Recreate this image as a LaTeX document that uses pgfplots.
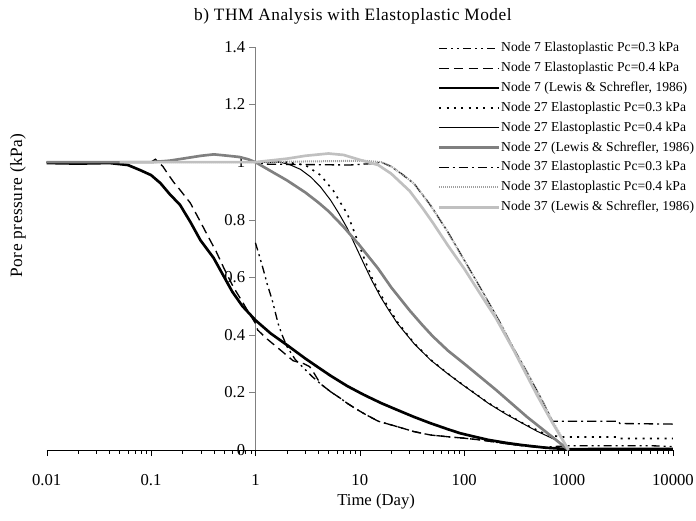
\documentclass[border=0pt]{standalone}
\usepackage{fontspec}
\setmainfont{Liberation Serif}
\newfontfamily\spacedfont[LetterSpace=3]{Liberation Serif}
\usepackage{pgfplots}
\pgfplotsset{compat=1.18}
\definecolor{midgray}{HTML}{808080}
\definecolor{ltgray}{HTML}{C0C0C0}
\definecolor{spgray}{HTML}{A0A0A0}

\begin{document}
\begin{tikzpicture}
\begin{axis}[
  scale only axis, width=469.7pt, height=302.25pt,
  xmode=log, xmin=0.01, xmax=10000, ymin=0, ymax=1.4,
  axis x line=bottom, axis y line=middle,
  axis line style={-},
  y axis line style={midgray},
  hide obscured x ticks=false, hide obscured y ticks=false,
  xtick={0.01,0.1,1,10,100,1000,10000},
  xticklabels={0.01,0.1,1,10,100,1000,10000},
  minor xtick={},
  ytick={0,0.2,0.4,0.6,0.8,1,1.2,1.4},
  yticklabels={0,0.2,0.4,0.6,0.8,1,1.2,1.4},
  tick align=outside, major tick length=4.5pt,
  x tick style={black}, y tick style={midgray},
  tick label style={font=\fontsize{12.5}{15}\selectfont},
  xticklabel style={anchor=base, yshift=-22pt},
  yticklabel style={anchor=east, inner sep=0pt, xshift=-3pt},
  clip=false,
  title={b) THM Analysis with Elastoplastic Model},
  xlabel={Time (Day)}, ylabel={Pore pressure (kPa)},
  every axis title/.style={at={(axis description cs:0.489,1)}, anchor=base,
    yshift=20pt, font=\spacedfont\fontsize{13}{15}\selectfont},
  every axis x label/.style={at={(axis description cs:0.526,0)}, anchor=base,
    yshift=-41.25pt, font=\fontsize{12.5}{15}\selectfont},
  every axis y label/.style={at={(axis description cs:0,0.607)}, xshift=-21.5pt,
    rotate=90, anchor=center, font=\spacedfont\fontsize{13}{15}\selectfont},
  legend cell align=left,
  legend image code/.code={\draw[#1] (0pt,0pt) -- (45pt,0pt);},
  legend style={at={(1.0416,1.022)}, anchor=north east, draw=none, fill=none,
    font=\fontsize{10.2}{12}\selectfont, row sep=3.9pt,
    nodes={inner sep=0.5pt, text height=7.5pt, text depth=2.5pt}},
]
% Node 7, Pc=0.3
\addplot[black, line width=1pt, dash pattern=on 6pt off 3pt on 1.5pt off 3pt on 1.5pt off 3pt]
coordinates {(1,0.72) (1.1,0.67) (1.19,0.627) (1.3,0.575) (1.45,0.52) (1.66,0.436)
  (1.8,0.40) (2,0.36) (2.4,0.315) (2.8,0.29) (3.5,0.255) (4.2,0.23) (5.25,0.2025)
  (6.5,0.18) (7.6,0.162) (9,0.145) (10.9,0.127) (15,0.10) (22.9,0.081) (33,0.064)
  (47.6,0.052) (70,0.046) (100,0.041) (150,0.034) (250,0.022) (400,0.013)
  (600,0.01) (1000,0.015) (6000,0.015) (10000,0.012)};
% Node 7, Pc=0.4
\addplot[black, line width=1pt, dash pattern=on 7pt off 4pt]
coordinates {(0.01,1.0) (0.1,1.0) (0.11,1.01) (0.13,0.985) (0.143,0.962) (0.165,0.93)
  (0.19,0.903) (0.238,0.858) (0.29,0.80) (0.346,0.747) (0.42,0.69) (0.494,0.635)
  (0.615,0.566) (0.75,0.515) (0.87,0.475) (1,0.44) (1.05,0.417) (1.3,0.385)
  (1.74,0.347) (2.3,0.31) (2.9,0.30) (3.3,0.29) (3.6,0.27) (4.2,0.23) (5.25,0.2025)
  (6.5,0.18) (7.6,0.162) (9,0.145) (10.9,0.127) (15,0.10) (22.9,0.081) (33,0.064)
  (47.6,0.052) (70,0.046) (100,0.041) (150,0.034) (250,0.022) (400,0.013)
  (600,0.007) (1000,0.0) (10000,0.005)};
% Node 7, Lewis & Schrefler
\addplot[black, line width=2pt]
coordinates {(0.01,0.997) (0.02,0.995) (0.04,0.997) (0.06,0.99) (0.079,0.972)
  (0.1,0.955) (0.123,0.927) (0.15,0.89) (0.19,0.851) (0.24,0.79) (0.297,0.729)
  (0.398,0.667) (0.461,0.625) (0.6,0.55) (0.75,0.50) (1,0.451) (1.4,0.405)
  (2,0.365) (3,0.318) (4,0.287) (5.25,0.258) (7.6,0.222) (10.9,0.192)
  (16,0.163) (22.9,0.139) (33,0.115) (47.6,0.093) (70,0.072) (92,0.058)
  (130,0.045) (171,0.035) (250,0.025) (361,0.017) (600,0.008) (1000,0.003)
  (10000,0.004)};
% Node 27, Pc=0.3
\addplot[black, line width=1.2pt, dash pattern=on 1.5pt off 4pt]
coordinates {(1,1.0) (2,1.0) (3,0.99) (4.2,0.955) (5.6,0.90) (6.5,0.86) (7.6,0.82)
  (8.8,0.76) (10.9,0.67) (13,0.60) (15.8,0.54) (22.9,0.445) (33,0.372) (47.6,0.314)
  (69,0.267) (92,0.233) (171,0.163) (361,0.094) (600,0.055) (850,0.045)
  (3000,0.045) (3100,0.04) (10000,0.04)};
% Node 27, Pc=0.4
\addplot[black, line width=0.75pt]
coordinates {(1,1.0) (1.74,1.0) (2.17,0.99) (2.7,0.975) (3.4,0.948) (4.2,0.914)
  (5.25,0.868) (6.3,0.822) (7.6,0.77) (8.8,0.72) (10.9,0.648) (13,0.59)
  (15.8,0.532) (19,0.485) (22.9,0.44) (33,0.37) (47.6,0.3125) (69,0.266)
  (92,0.232) (130,0.193) (171,0.162) (250,0.125) (361,0.093) (500,0.065)
  (752,0.035) (1000,0.0)};
% Node 27, Lewis & Schrefler
\addplot[midgray, line width=2pt]
coordinates {(0.01,1.0) (0.1,1.0) (0.15,1.005) (0.2,1.012) (0.3,1.022) (0.4,1.027)
  (0.55,1.022) (0.7,1.018) (0.85,1.01) (1,1.0) (1.5,0.963) (2,0.937) (3,0.895)
  (4,0.86) (5,0.83) (7,0.775) (10,0.71) (15,0.63) (20,0.565) (30,0.485)
  (40,0.433) (50,0.395) (70,0.345) (100,0.30) (200,0.21) (400,0.115)
  (700,0.045) (1000,0.0)};
% Node 37, Pc=0.3
\addplot[black, line width=1pt, dash pattern=on 7pt off 3pt on 1.5pt off 3pt]
coordinates {(0.1,1.0) (1,1.0) (1.3,0.993) (8,0.99) (13,0.995) (16,1.0) (20,0.985)
  (25,0.96) (33,0.926) (47.6,0.85) (69,0.76) (100,0.66) (150,0.55) (215,0.45)
  (300,0.35) (400,0.27) (500,0.205) (600,0.15) (700,0.10) (3000,0.10)
  (3100,0.092) (10000,0.09)};
% Node 37, Pc=0.4
\addplot[spgray, line width=1.5pt, dash pattern=on 0.75pt off 0.75pt]
coordinates {(0.1,1.0) (1,1.0) (10.9,1.005) (16,1.0) (20,0.985) (25,0.96)
  (33,0.926) (47.6,0.85) (69,0.76) (100,0.66) (150,0.55) (215,0.45) (300,0.35)
  (400,0.27) (500,0.205) (600,0.15) (700,0.10) (800,0.065) (1000,0.0)};
% Node 37, Lewis & Schrefler
\addplot[ltgray, line width=2pt]
coordinates {(0.05,1.0) (1,1.0) (2,1.012) (3,1.022) (5,1.03) (7,1.025)
  (10,1.008) (15,0.99) (20,0.96) (30,0.90) (40,0.84) (50,0.79) (70,0.71)
  (100,0.63) (150,0.53) (200,0.46) (300,0.345) (500,0.19) (700,0.095)
  (1000,0.0)};
\legend{Node 7 Elastoplastic Pc=0.3 kPa, Node 7 Elastoplastic Pc=0.4 kPa,
  {Node 7 (Lewis \& Schrefler, 1986)}, Node 27 Elastoplastic Pc=0.3 kPa,
  Node 27 Elastoplastic Pc=0.4 kPa, {Node 27 (Lewis \& Schrefler, 1986)},
  Node 37 Elastoplastic Pc=0.3 kPa, Node 37 Elastoplastic Pc=0.4 kPa,
  {Node 37 (Lewis \& Schrefler, 1986)}}
\end{axis}
\pgfresetboundingbox
\path (-35pt,-53.25pt) rectangle (487pt,337.5pt);
\end{tikzpicture}
\end{document}
